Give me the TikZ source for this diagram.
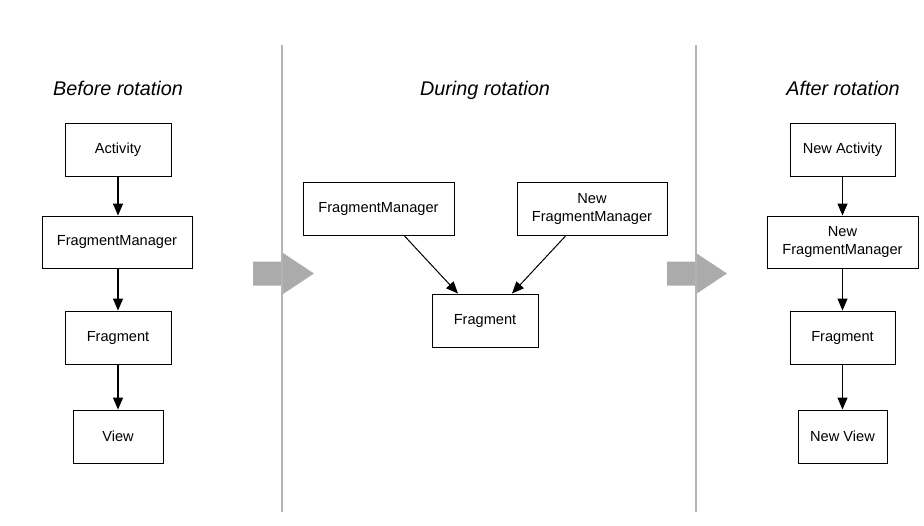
\documentclass[tikz,border=0pt]{standalone}
\usepackage{fontspec}
\setmainfont{Liberation Sans}
\usetikzlibrary{arrows.meta}
\definecolor{divgray}{HTML}{B4B4B4}
\definecolor{arrgray}{HTML}{ABABAB}
\begin{document}
\begin{tikzpicture}[x=1pt,y=-1pt,
  box/.style={draw=black,line width=0.9pt,inner sep=0pt,align=center,
    font=\fontsize{14.6}{18}\selectfont},
  title/.style={font=\fontsize{19.8}{22}\selectfont\itshape,anchor=base},
  conn/.style={line width=1.2pt,-{Triangle[length=12pt,width=10pt]}},
  divider/.style={draw=divgray,line width=2pt},
  bigarrow/.style={fill=arrgray,draw=none}]
\useasboundingbox (0,0) rectangle (924,525);
\fill[white] (0,0) rectangle (924,525);
% titles
\node[title] (t1) at (118,95) {Before rotation};
\node[title] (t2) at (485,95) {During rotation};
\node[title] (t3) at (843,95) {After rotation};
% big arrows and dividers
\fill[bigarrow] (253,261.5) -- (283,261.5) -- (283,253) -- (314,273.5) -- (283,294) -- (283,285.5) -- (253,285.5) -- cycle;
\fill[bigarrow] (667,261.5) -- (696,261.5) -- (696,253) -- (727,273.5) -- (696,294) -- (696,285.5) -- (667,285.5) -- cycle;
\coordinate (d1a) at (282,45); \coordinate (d1b) at (282,512);
\coordinate (d2a) at (696,45); \coordinate (d2b) at (696,512);
\draw[divider] (d1a) -- (d1b);
\draw[divider] (d2a) -- (d2b);
% left column
\node[box,minimum width=106pt,minimum height=53pt] (act) at (118,149.5) {Activity};
\node[box,minimum width=150pt,minimum height=52pt] (fm) at (117,242) {FragmentManager};
\node[box,minimum width=106pt,minimum height=53pt] (frag) at (118,337.5) {Fragment};
\node[box,minimum width=90pt,minimum height=53pt] (view) at (118,436.5) {View};
\draw[conn] (act.south) -- (act.south |- fm.north);
\draw[conn] (act.south |- fm.south) -- (frag.north);
\draw[conn] (frag.south) -- (view.north);
% middle
\node[box,minimum width=151pt,minimum height=53pt] (mfm) at (378.5,208.5) {FragmentManager};
\node[box,minimum width=150pt,minimum height=53pt] (mnfm) at (592,208.5) {New\\FragmentManager};
\node[box,minimum width=106pt,minimum height=53pt] (mfrag) at (485,320.5) {Fragment};
\draw[conn,line width=1pt] ([xshift=25.5pt]mfm.south) -- ([xshift=-27pt]mfrag.north);
\draw[conn,line width=1pt] ([xshift=-26pt]mnfm.south) -- ([xshift=27pt]mfrag.north);
% right column
\node[box,minimum width=105pt,minimum height=53pt] (na) at (842.5,149.5) {New Activity};
\node[box,minimum width=151pt,minimum height=52pt] (nfm) at (842.5,242) {New\\FragmentManager};
\node[box,minimum width=105pt,minimum height=53pt] (rfrag) at (842.5,337.5) {Fragment};
\node[box,minimum width=89pt,minimum height=53pt] (nv) at (842.5,436.5) {New View};
\draw[conn] (na.south) -- (nfm.north);
\draw[conn] (nfm.south) -- (rfrag.north);
\draw[conn] (rfrag.south) -- (nv.north);
\end{tikzpicture}
\end{document}
